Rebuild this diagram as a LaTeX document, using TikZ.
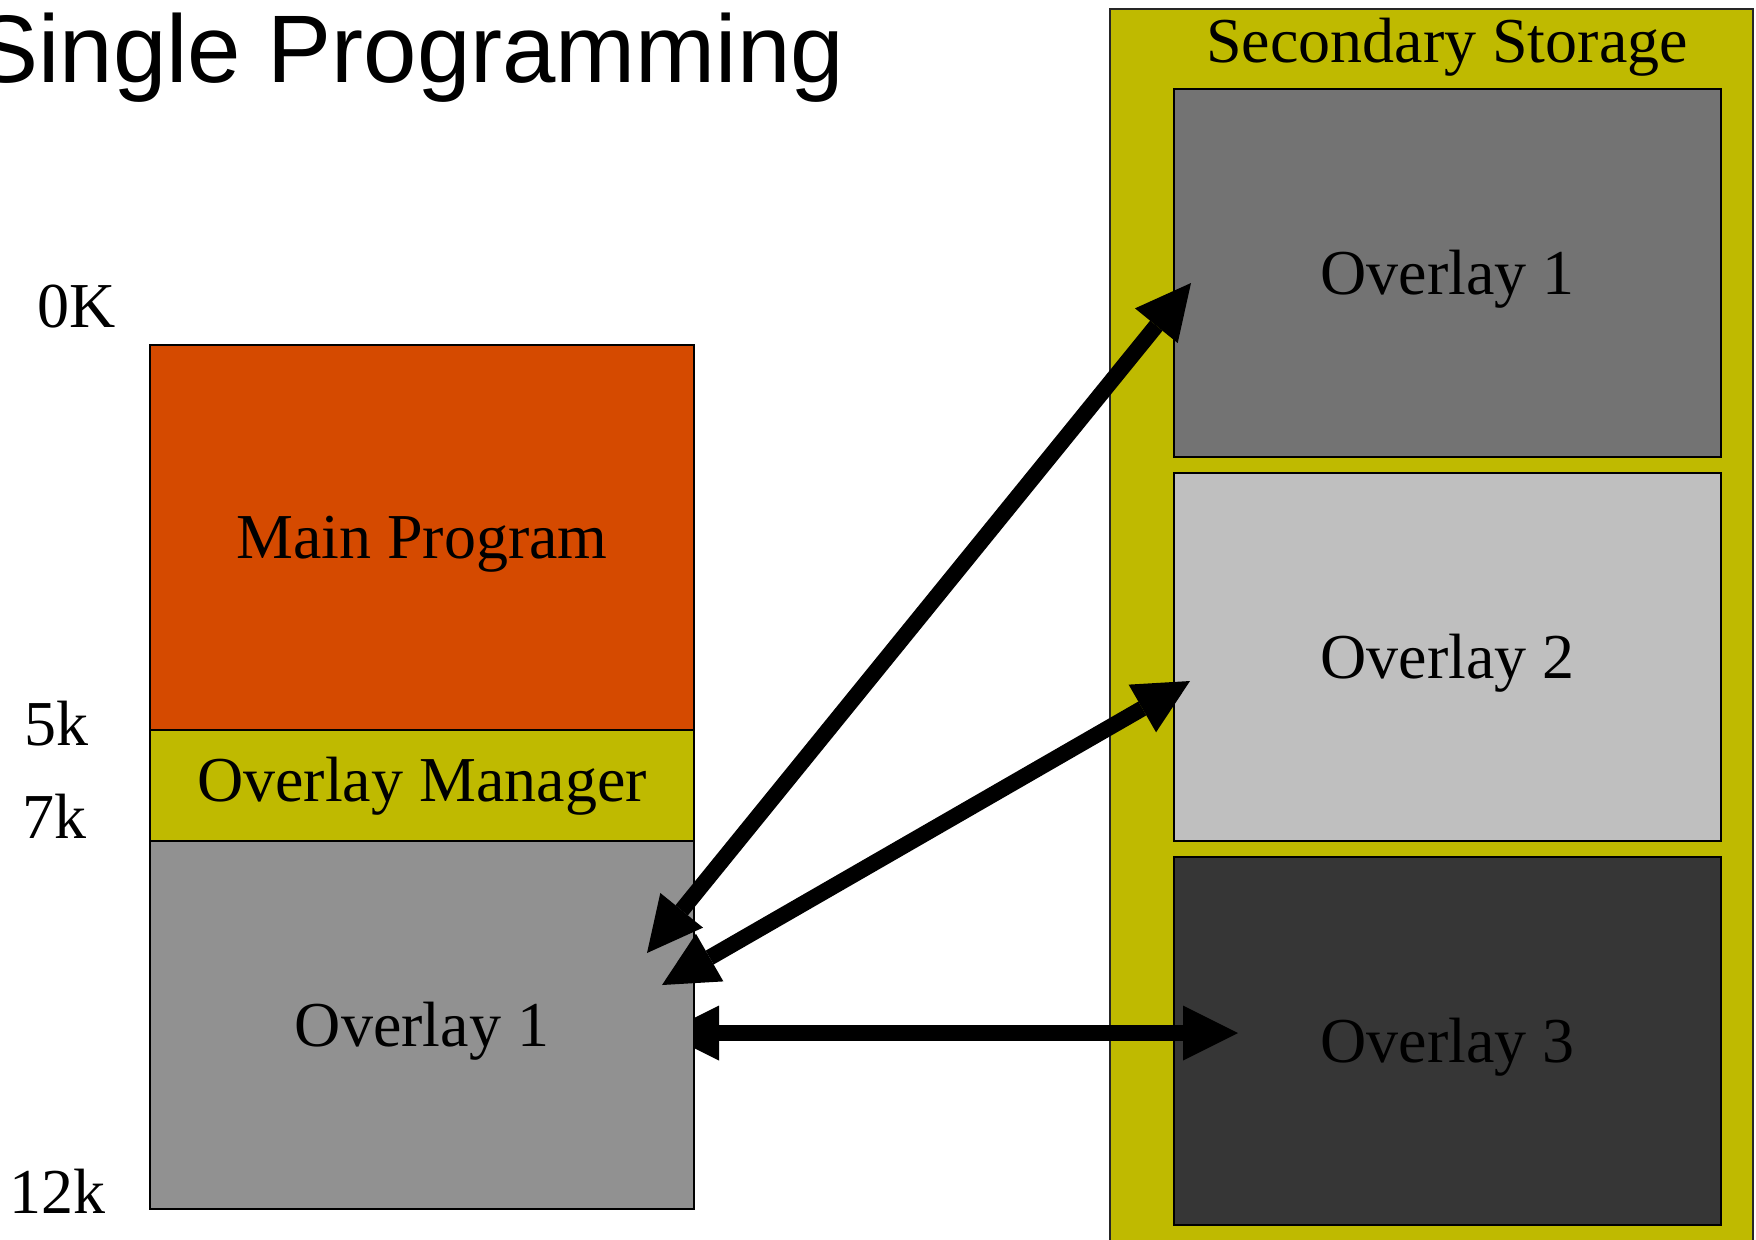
\documentclass[tikz,border=0pt]{standalone}
\usepackage{fontspec}
\setmainfont{Liberation Serif}
\newfontfamily\headfont{Liberation Sans}
\usetikzlibrary{arrows.meta}

\definecolor{mainred}{HTML}{D54A00}
\definecolor{mgryellow}{HTML}{BFBA00}
\definecolor{memgray}{HTML}{919191}
\definecolor{slotone}{HTML}{737373}
\definecolor{slottwo}{HTML}{BFBFBF}
\definecolor{slotthree}{HTML}{363636}

\newcommand{\lblfont}{\fontsize{32pt}{38pt}\selectfont}

\begin{document}
\begin{tikzpicture}[x=0.5pt, y=-0.5pt,
  box/.style={draw=black, line width=1pt, inner sep=0pt, outer sep=0pt,
    anchor=north west, font=\lblfont, text height=21.2pt, text depth=0pt},
  membox/.style={box, minimum width=272pt},
  slot/.style={box, minimum width=273.5pt, minimum height=184pt},
  addr/.style={anchor=base west, inner sep=0pt, font=\lblfont},
  bigarrow/.style={line width=8pt,
    {Triangle[length=27.5pt, width=27.5pt, line width=0pt]}-{Triangle[length=27.5pt, width=27.5pt, line width=0pt]}}]

\clip (0,0) rectangle (1756,1239);
\fill[white] (0,0) rectangle (1756,1239);

% title
\node[anchor=base west, inner sep=0pt,
      font=\headfont\fontsize{48pt}{56pt}\selectfont] (title) at (-26,82) {Single Programming};

% secondary storage with its three overlays
\node[draw=black!85, line width=0.8pt, fill=mgryellow, inner sep=0pt, outer sep=0pt,
      anchor=north west, minimum width=321.5pt, minimum height=640pt] (sec) at (1110,9) {};
\node[anchor=base, inner sep=0pt, font=\lblfont] (sectitle) at (1447,62) {Secondary Storage};
\node[slot, fill=slotone]   (s1) at (1174,89)  {Overlay 1};
\node[slot, fill=slottwo]   (s2) at (1174,473) {Overlay 2};
\node[slot, fill=slotthree] (s3) at (1174,857) {Overlay 3};

% arrow end points
\coordinate (a1) at (647,953);
\coordinate (a2) at (1191,283);
\coordinate (b1) at (662,985);
\coordinate (b2) at (1190,681);
\coordinate (c1) at (664,1033);
\coordinate (c2) at (1238,1033);

% swap path to overlay 3 (runs under the memory column)
\draw[bigarrow] (c1) -- (c2);

% main memory
\node[membox, fill=mainred,    minimum height=192.5pt] (main) at (150,345) {Main Program};
\node[membox, fill=mgryellow,  minimum height=55.5pt, text depth=5pt] (mgr) at (150,730) {Overlay Manager};
\node[membox, fill=memgray,    minimum height=184pt]   (ov)   at (150,841) {Overlay 1};

% addresses
\node[addr] (k0)  at (37,327)  {0K};
\node[addr] (k5)  at (24,745)  {5k};
\node[addr] (k7)  at (22,838)  {7k};
\node[addr] (k12) at (9,1213)  {12k};

% swap paths to overlays 1 and 2
\draw[bigarrow] (a1) -- (a2);
\draw[bigarrow] (b1) -- (b2);

\end{tikzpicture}
\end{document}
